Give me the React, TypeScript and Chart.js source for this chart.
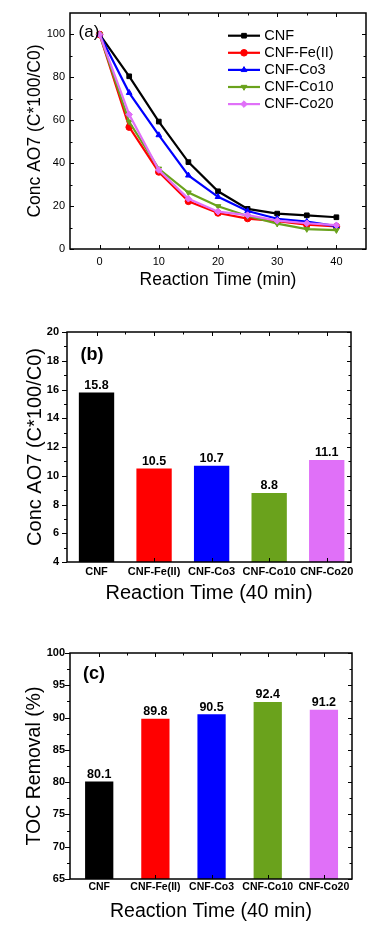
import React, { useEffect, useRef } from 'react';
import { Chart, registerables } from 'chart.js';
import { drawPoint } from 'chart.js/helpers';

Chart.register(...registerables);

const FONT = '"Liberation Sans", Arial, Helvetica, sans-serif';

// ---------- Panel (a) data ----------
const timeMin = [0, 5, 10, 15, 20, 25, 30, 35, 40];
const seriesNames = ['CNF', 'CNF-Fe(II)', 'CNF-Co3', 'CNF-Co10', 'CNF-Co20'];
const cnf = [100, 80.5, 59.4, 40.5, 26.9, 18.7, 16.5, 15.7, 14.8];
const cnfFe = [100, 56.8, 35.9, 22.2, 16.8, 14.2, 13.0, 11.4, 10.5];
const cnfCo3 = [100, 72.8, 53.1, 34.3, 24.3, 17.7, 14.1, 12.8, 10.7];
const cnfCo10 = [100, 59.3, 37.4, 26.3, 19.9, 15.4, 11.8, 9.3, 8.8];
const cnfCo20 = [100, 62.7, 36.8, 23.4, 17.4, 15.8, 13.2, 12.0, 11.1];
const seriesColors = ['#000000', '#ff0000', '#0000ff', '#6aa21c', '#e070f8'];
const xTicksA = [0, 10, 20, 30, 40];
const xMinorA = [5, 15, 25, 35];
const yTicksA = [0, 20, 40, 60, 80, 100];
const yMinorA = [10, 30, 50, 70, 90];

// ---------- Panel (b) data ----------
const barCategories = ['CNF', 'CNF-Fe(II)', 'CNF-Co3', 'CNF-Co10', 'CNF-Co20'];
const concAt40 = [15.8, 10.5, 10.7, 8.8, 11.1];
const yTicksB = [4, 6, 8, 10, 12, 14, 16, 18, 20];
const yMinorB = [5, 7, 9, 11, 13, 15, 17, 19];

// ---------- Panel (c) data ----------
const tocRemoval = [80.1, 89.8, 90.5, 92.4, 91.2];
const yTicksC = [65, 70, 75, 80, 85, 90, 95, 100];
const yMinorC = [67.5, 72.5, 77.5, 82.5, 87.5, 92.5, 97.5];

const catPositions = [1, 2, 3, 4, 5];
const catHalf = [1.5, 2.5, 3.5, 4.5];

type TickSpec = { scale: string; side: 'top' | 'bottom' | 'left' | 'right'; values: number[]; len: number; dir: 'in' | 'out' };

function framePlugin(id: string, specs: TickSpec[]) {
  return {
    id,
    afterDatasetsDraw(chart: any) {
      const { ctx, chartArea: a, scales } = chart;
      ctx.save();
      ctx.strokeStyle = '#000';
      ctx.lineWidth = 1;
      for (const t of specs) {
        const scale = scales[t.scale];
        for (const v of t.values) {
          const p = Math.round(scale.getPixelForValue(v)) + 0.5;
          ctx.beginPath();
          if (t.side === 'bottom') {
            const s = t.dir === 'in' ? -1 : 1;
            ctx.moveTo(p, a.bottom);
            ctx.lineTo(p, a.bottom + s * t.len);
          } else if (t.side === 'top') {
            const s = t.dir === 'in' ? 1 : -1;
            ctx.moveTo(p, a.top);
            ctx.lineTo(p, a.top + s * t.len);
          } else if (t.side === 'left') {
            const s = t.dir === 'in' ? 1 : -1;
            ctx.moveTo(a.left, p);
            ctx.lineTo(a.left + s * t.len, p);
          } else {
            const s = t.dir === 'in' ? -1 : 1;
            ctx.moveTo(a.right, p);
            ctx.lineTo(a.right + s * t.len, p);
          }
          ctx.stroke();
        }
      }
      ctx.lineWidth = 1.5;
      ctx.strokeRect(a.left, a.top, a.right - a.left, a.bottom - a.top);
      ctx.restore();
    },
  };
}

function panelLabel(id: string, text: string, dx: number, dy: number, font: string) {
  return {
    id,
    afterDatasetsDraw(chart: any) {
      const { ctx, chartArea: a } = chart;
      ctx.save();
      ctx.fillStyle = '#000';
      ctx.font = font;
      ctx.textAlign = 'center';
      ctx.textBaseline = 'middle';
      ctx.fillText(text, a.left + dx, a.top + dy);
      ctx.restore();
    },
  };
}

const legendPluginA = {
  id: 'legendA',
  afterDatasetsDraw(chart: any) {
    const { ctx, chartArea: a } = chart;
    chart.data.datasets.forEach((ds: any, i: number) => {
      const y = a.top + 22.7 + i * 17.1;
      ctx.save();
      ctx.strokeStyle = ds.borderColor;
      ctx.lineWidth = 2.2;
      ctx.beginPath();
      ctx.moveTo(228, y);
      ctx.lineTo(260, y);
      ctx.stroke();
      ctx.fillStyle = ds.backgroundColor;
      ctx.lineWidth = 1;
      drawPoint(ctx, { pointStyle: ds.pointStyle, rotation: ds.pointRotation || 0, radius: 3.3, borderWidth: 1 } as any, 244, y);
      ctx.fillStyle = '#000';
      ctx.font = `14.5px ${FONT}`;
      ctx.textAlign = 'left';
      ctx.textBaseline = 'middle';
      ctx.fillText(ds.label, 264.3, y);
      ctx.restore();
    });
  },
};

function valueLabels(id: string, values: number[]) {
  return {
    id,
    afterDatasetsDraw(chart: any) {
      const { ctx } = chart;
      const meta = chart.getDatasetMeta(0);
      ctx.save();
      ctx.fillStyle = '#000';
      ctx.font = `bold 12.5px ${FONT}`;
      ctx.textAlign = 'center';
      ctx.textBaseline = 'bottom';
      meta.data.forEach((bar: any, i: number) => {
        ctx.fillText(values[i].toFixed(1), bar.x, bar.y - 1);
      });
      ctx.restore();
    },
  };
}

function buildA(): any {
  const seriesValues = [cnf, cnfFe, cnfCo3, cnfCo10, cnfCo20];
  const styles = ['rect', 'circle', 'triangle', 'triangle', 'rectRot'];
  const rotations = [0, 0, 0, 180, 0];
  return {
    type: 'line',
    data: {
      datasets: seriesValues.map((vals, i) => ({
        label: seriesNames[i],
        data: vals.map((y, j) => ({ x: timeMin[j], y })),
        borderColor: seriesColors[i],
        backgroundColor: seriesColors[i],
        borderWidth: 2.2,
        pointStyle: styles[i],
        pointRotation: rotations[i],
        pointRadius: 3.3,
        pointBorderWidth: 1,
        tension: 0,
        order: seriesValues.length - 1 - i,
      })),
    },
    options: {
      responsive: false,
      animation: false,
      devicePixelRatio: 1,
      layout: { padding: { top: 13, right: 19, left: 0, bottom: 0 } },
      plugins: { legend: { display: false }, tooltip: { enabled: false } },
      scales: {
        x: {
          type: 'linear',
          min: -5,
          max: 45,
          afterBuildTicks: (s: any) => { s.ticks = xTicksA.map((v) => ({ value: v })); },
          afterFit: (s: any) => { s.height = 51; },
          grid: { display: false, drawTicks: false },
          border: { display: false },
          ticks: { color: '#000', font: { family: FONT, size: 11 }, padding: 6 },
          title: { display: true, text: 'Reaction Time (min)', color: '#000', font: { family: FONT, size: 17.5 }, padding: { top: 0, bottom: 9.5 } },
        },
        y: {
          type: 'linear',
          min: 0,
          max: 110,
          afterBuildTicks: (s: any) => { s.ticks = yTicksA.map((v) => ({ value: v })); },
          afterFit: (s: any) => { s.width = 70; },
          grid: { display: false, drawTicks: false },
          border: { display: false },
          ticks: { color: '#000', font: { family: FONT, size: 11 }, padding: 5 },
          title: { display: true, text: 'Conc AO7 (C*100/C0)', color: '#000', font: { family: FONT, size: 17.5 }, padding: { top: 24.5, bottom: 0 } },
        },
      },
    },
    plugins: [
      framePlugin('frameA', [
        { scale: 'x', side: 'bottom', values: xTicksA, len: 4, dir: 'in' },
        { scale: 'x', side: 'bottom', values: xMinorA, len: 2.5, dir: 'in' },
        { scale: 'x', side: 'top', values: xTicksA, len: 4, dir: 'in' },
        { scale: 'x', side: 'top', values: xMinorA, len: 2.5, dir: 'in' },
        { scale: 'y', side: 'left', values: yTicksA, len: 4, dir: 'in' },
        { scale: 'y', side: 'left', values: yMinorA, len: 2.5, dir: 'in' },
        { scale: 'y', side: 'right', values: yTicksA, len: 4, dir: 'in' },
        { scale: 'y', side: 'right', values: yMinorA, len: 2.5, dir: 'in' },
      ]),
      legendPluginA,
      panelLabel('labelA', '(a)', 19, 19.5, `17px ${FONT}`),
    ],
  };
}

function buildBar(opts: {
  id: string;
  values: number[];
  yMin: number;
  yMax: number;
  yTicks: number[];
  yMinor: number[];
  xMin: number;
  xMax: number;
  barPct: number;
  padTop: number;
  padRight: number;
  yWidth: number;
  xHeight: number;
  yTitle: string;
  yTickPad: number;
  xTickPad: number;
  xTickSize: number;
  xTitlePadBottom: number;
  titleSize: number;
  yTitlePadTop: number;
  label: string;
  labelDx: number;
  labelDy: number;
}): any {
  return {
    type: 'bar',
    data: {
      datasets: [
        {
          data: opts.values.map((v, i) => ({ x: catPositions[i], y: v })),
          backgroundColor: seriesColors,
          borderWidth: 0,
          categoryPercentage: 1,
          barPercentage: opts.barPct,
        },
      ],
    },
    options: {
      responsive: false,
      animation: false,
      devicePixelRatio: 1,
      layout: { padding: { top: opts.padTop, right: opts.padRight, left: 0, bottom: 0 } },
      plugins: { legend: { display: false }, tooltip: { enabled: false } },
      scales: {
        x: {
          type: 'linear',
          offset: false,
          min: opts.xMin,
          max: opts.xMax,
          afterBuildTicks: (s: any) => { s.ticks = catPositions.map((v) => ({ value: v })); },
          afterFit: (s: any) => { s.height = opts.xHeight; },
          grid: { display: false, drawTicks: false },
          border: { display: false },
          ticks: {
            color: '#000',
            font: { family: FONT, size: opts.xTickSize, weight: 'bold' },
            padding: opts.xTickPad,
            maxRotation: 0,
            autoSkip: false,
            callback: (v: any) => barCategories[Math.round(Number(v)) - 1] ?? '',
          },
          title: { display: true, text: 'Reaction Time (40 min)', color: '#000', font: { family: FONT, size: opts.titleSize }, padding: { top: 0, bottom: opts.xTitlePadBottom } },
        },
        y: {
          type: 'linear',
          min: opts.yMin,
          max: opts.yMax,
          afterBuildTicks: (s: any) => { s.ticks = opts.yTicks.map((v) => ({ value: v })); },
          afterFit: (s: any) => { s.width = opts.yWidth; },
          grid: { display: false, drawTicks: false },
          border: { display: false },
          ticks: { color: '#000', font: { family: FONT, size: 11, weight: 'bold' }, padding: opts.yTickPad },
          title: { display: true, text: opts.yTitle, color: '#000', font: { family: FONT, size: opts.titleSize }, padding: { top: opts.yTitlePadTop, bottom: 0 } },
        },
      },
    },
    plugins: [
      framePlugin('frame' + opts.id, [
        { scale: 'x', side: 'bottom', values: catPositions, len: 4, dir: 'in' },
        { scale: 'x', side: 'top', values: catPositions, len: 4, dir: 'in' },
        { scale: 'x', side: 'top', values: catHalf, len: 2.5, dir: 'in' },
        { scale: 'y', side: 'left', values: opts.yTicks, len: 5, dir: 'out' },
        { scale: 'y', side: 'left', values: opts.yMinor, len: 3, dir: 'out' },
        { scale: 'y', side: 'right', values: opts.yTicks, len: 4, dir: 'in' },
        { scale: 'y', side: 'right', values: opts.yMinor, len: 2.5, dir: 'in' },
      ]),
      valueLabels('values' + opts.id, opts.values),
      panelLabel('label' + opts.id, opts.label, opts.labelDx, opts.labelDy, `bold 18px ${FONT}`),
    ],
  };
}

function buildB(): any {
  return buildBar({
    id: 'B',
    values: concAt40,
    yMin: 4,
    yMax: 20,
    yTicks: yTicksB,
    yMinor: yMinorB,
    xMin: 0.487,
    xMax: 5.422,
    barPct: 0.614,
    padTop: 32,
    padRight: 34,
    yWidth: 67,
    xHeight: 58,
    yTitle: 'Conc AO7 (C*100/C0)',
    yTickPad: 8,
    xTickPad: 3.4,
    xTickSize: 11,
    xTitlePadBottom: 15,
    titleSize: 20,
    yTitlePadTop: 23,
    label: '(b)',
    labelDx: 25,
    labelDy: 23,
  });
}

function buildC(): any {
  return buildBar({
    id: 'C',
    values: tocRemoval,
    yMin: 65,
    yMax: 100,
    yTicks: yTicksC,
    yMinor: yMinorC,
    xMin: 0.48,
    xMax: 5.5,
    barPct: 0.503,
    padTop: 33,
    padRight: 33,
    yWidth: 70,
    xHeight: 52,
    yTitle: 'TOC Removal (%)',
    yTickPad: 5,
    xTickPad: 1.5,
    xTickSize: 10.5,
    xTitlePadBottom: 7.6,
    titleSize: 19.5,
    yTitlePadTop: 23.3,
    label: '(c)',
    labelDx: 24,
    labelDy: 20.7,
  });
}

function ChartCanvas({ top, height, build }: { top: number; height: number; build: () => any }) {
  const ref = useRef<HTMLCanvasElement>(null);
  useEffect(() => {
    const chart = new Chart(ref.current as HTMLCanvasElement, build());
    return () => chart.destroy();
  }, [build]);
  return (
    <canvas
      ref={ref}
      width={385}
      height={height}
      style={{ position: 'absolute', left: 0, top, width: 385, height, display: 'block' }}
    />
  );
}

export default function App() {
  return (
    <div style={{ position: 'absolute', left: 0, top: 0, width: 385, height: 931, background: '#fff' }}>
      <ChartCanvas top={0} height={300} build={buildA} />
      <ChartCanvas top={300} height={320} build={buildB} />
      <ChartCanvas top={620} height={311} build={buildC} />
    </div>
  );
}
